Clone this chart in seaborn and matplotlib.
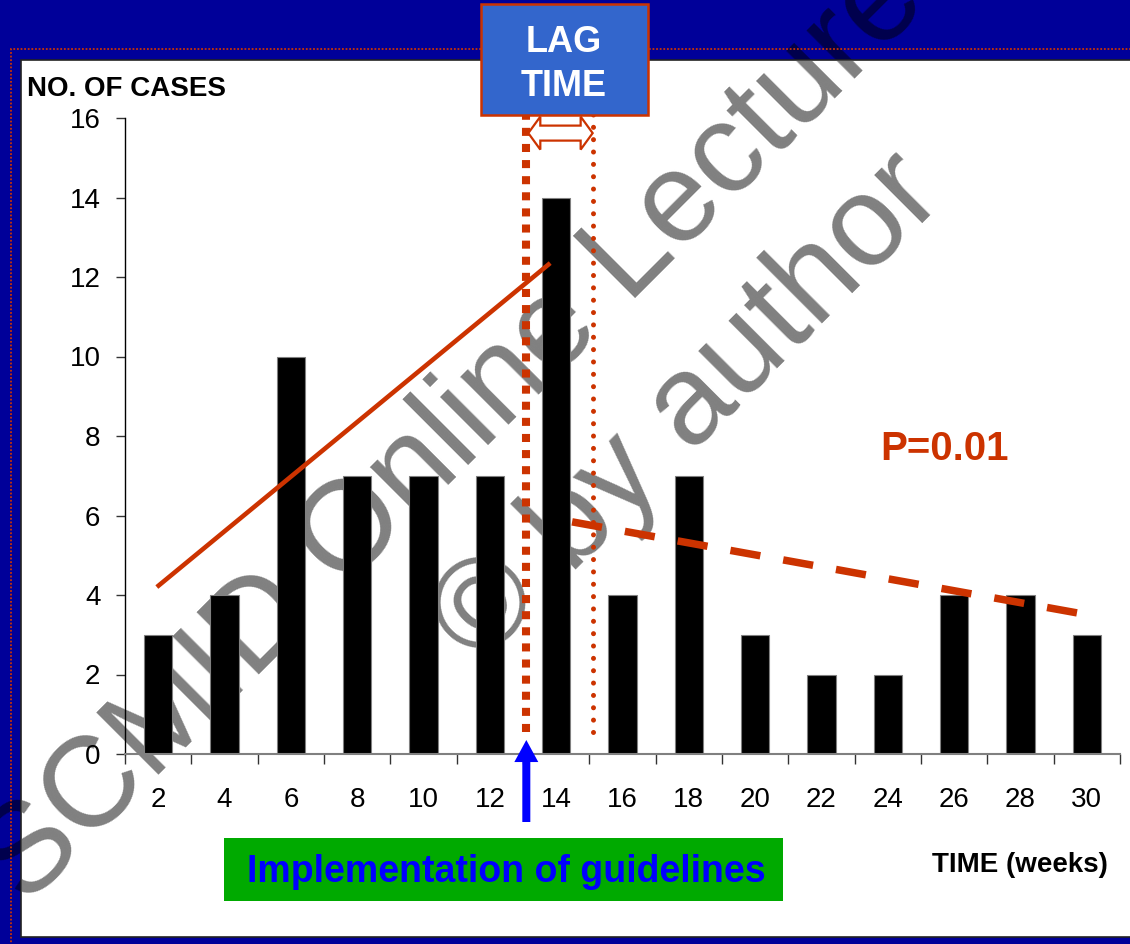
import matplotlib
matplotlib.use("Agg")
import matplotlib.pyplot as plt
import numpy as np
import pandas as pd
import seaborn as sns
from matplotlib.patches import Rectangle, Polygon
from matplotlib.transforms import IdentityTransform, Bbox, TransformedBbox
from matplotlib.ticker import FixedLocator

# ---- data -------------------------------------------------------------
weeks = [2, 4, 6, 8, 10, 12, 14, 16, 18, 20, 22, 24, 26, 28, 30]
cases = [3, 4, 10, 7, 7, 7, 14, 4, 7, 3, 2, 2, 4, 4, 3]

# fitted trends before and after the guideline change
trend_before_weeks = [1.96, 13.82]
trend_before_cases = [4.2, 12.35]
trend_after_weeks = [14.48, 30.37]
trend_after_cases = [5.84, 3.45]

implementation_week = 13.1
lag_end_week = 15.1
p_value_label = "P=0.01"
y_ticks = [0, 2, 4, 6, 8, 10, 12, 14, 16]

# ---- styling ----------------------------------------------------------
W, H = 1130, 944
SLIDE_BLUE = "#000099"
RUST = "#CC3300"

sns.set_style("ticks")
plt.rcParams["font.family"] = ["Liberation Sans", "DejaVu Sans"]

fig = plt.figure(figsize=(W / 100, H / 100), dpi=100)
fig.patch.set_facecolor(SLIDE_BLUE)


def fx(x):
    return x / W


def fy(y):
    return 1 - y / H


# watermark: dark on the blue slide, grey on the white panel
wm_size = 92
wm_lines = [("SCMID Online Lecture", 455, 432), ("\u00a9 by author", 690, 410)]
for txt, cx, cy in wm_lines:
    fig.text(fx(cx), fy(cy), txt, rotation=45, rotation_mode="anchor",
             ha="center", va="center", fontsize=wm_size, color="#00004D", zorder=-3)

# dotted slide frame and white chart panel
fig.patches.append(Rectangle((fx(11), fy(990)), (1160 - 11) / W, (990 - 49) / H,
                             transform=fig.transFigure, fill=False, ec=RUST,
                             lw=1.3, ls=(0, (1, 1)), zorder=-2.5))
fig.patches.append(Rectangle((fx(21), fy(937)), (1140 - 21) / W, (937 - 60) / H,
                             transform=fig.transFigure, fc="white", ec="#222222",
                             lw=1.2, zorder=-2))

panel_clip = TransformedBbox(Bbox.from_extents(fx(22), fy(936), 1.0, fy(61)),
                             fig.transFigure)
for txt, cx, cy in wm_lines:
    t = fig.text(fx(cx), fy(cy), txt, rotation=45, rotation_mode="anchor",
                 ha="center", va="center", fontsize=wm_size, color="#808080",
                 zorder=-1)
    t.set_clip_on(True)
    t.set_clip_box(panel_clip)

# ---- bar chart --------------------------------------------------------
ax = fig.add_axes([fx(125), fy(754), (1120 - 125) / W, (754 - 118) / H])
ax.set_facecolor("none")

df = pd.DataFrame({"week": [str(w) for w in weeks], "cases": cases})
sns.barplot(data=df, x="week", y="cases", color="black", saturation=1,
            width=0.43, edgecolor="#808080", linewidth=0.8, ax=ax)

ax.set_xlim(-0.5, len(weeks) - 0.5)
ax.set_ylim(0, 16)
ax.set_yticks(y_ticks)
ax.set_xlabel("")
ax.set_ylabel("")

for side in ("top", "right"):
    ax.spines[side].set_visible(False)
ax.spines["left"].set_color("black")
ax.spines["left"].set_linewidth(1.0)
ax.spines["bottom"].set_color("#808080")
ax.spines["bottom"].set_linewidth(1.5)

ax.tick_params(axis="y", length=6.7, width=1, color="#333333", pad=11,
               labelsize=20, labelcolor="black")
ax.tick_params(axis="x", which="major", length=0, pad=24, labelsize=20,
               labelcolor="black")
ax.xaxis.set_minor_locator(FixedLocator(np.arange(-0.5, len(weeks), 1.0)))
ax.tick_params(axis="x", which="minor", length=7.2, width=1, color="#333333",
               direction="out")


def pos(w):
    """Map a week value onto the categorical bar positions."""
    return (w - weeks[0]) / (weeks[1] - weeks[0])


# trend lines
ax.plot([pos(w) for w in trend_before_weeks], trend_before_cases, color=RUST,
        lw=3.3, solid_capstyle="butt", zorder=4)
ax.plot([pos(w) for w in trend_after_weeks], trend_after_cases, color=RUST,
        lw=5.4, ls=(0, (4.05, 3.1)), dash_capstyle="butt", zorder=4)

# implementation marker and end of lag period
x_impl = pos(implementation_week)
x_lag = pos(lag_end_week)
ax.plot([x_impl, x_impl], [0.55, 16.1], color=RUST, lw=5.8, ls=(0, (1, 1)),
        dash_capstyle="butt", clip_on=False, zorder=4)
ax.plot([x_lag, x_lag], [0.55, 16.1], color=RUST, lw=3.6, ls=(0, (0.01, 2.46)),
        dash_capstyle="round", clip_on=False, zorder=4)

# hollow double arrow spanning the lag period
(xl, yc), = ax.transData.transform([(x_impl, 15.62)])
(xr, _), = ax.transData.transform([(x_lag, 15.62)])
xl += 2
hl, sh, hh = 12, 7.5, 16.5
verts = [(xl, yc), (xl + hl, yc + hh), (xl + hl, yc + sh), (xr - hl, yc + sh),
         (xr - hl, yc + hh), (xr, yc), (xr - hl, yc - hh), (xr - hl, yc - sh),
         (xl + hl, yc - sh), (xl + hl, yc - hh)]
ax.add_artist(Polygon(verts, closed=True, fc="white", ec=RUST, lw=1.6,
                      transform=IdentityTransform(), clip_on=False, zorder=5))

# blue arrow pointing at the implementation week
ax.annotate("", xy=(x_impl, (754 - 740) / 636), xytext=(x_impl, (754 - 822) / 636),
            xycoords=ax.get_xaxis_transform(), annotation_clip=False,
            arrowprops=dict(arrowstyle="simple,head_length=0.46,head_width=0.5,tail_width=0.167",
                            mutation_scale=34.5, fc="#0000FF", ec="none",
                            shrinkA=0, shrinkB=0))

ax.text(pos(25.7), 7.67, p_value_label, ha="center", va="center", fontsize=29,
        fontweight="bold", color=RUST)

# ---- slide labels -----------------------------------------------------
fig.text(fx(27), fy(96), "NO. OF CASES", ha="left", va="baseline", fontsize=20,
         fontweight="bold", color="black")
fig.text(fx(1108), fy(872), "TIME (weeks)", ha="right", va="baseline", fontsize=20,
         fontweight="bold", color="black")

fig.patches.append(Rectangle((fx(224), fy(901)), 559 / W, 63 / H,
                             transform=fig.transFigure, fc="#00AA00", ec="none",
                             zorder=5))
fig.text(fx(506), fy(882), "Implementation of guidelines", ha="center",
         va="baseline", fontsize=27, fontweight="bold", color="#0000FF", zorder=6)

fig.patches.append(Rectangle((fx(481), fy(115)), 167 / W, 111 / H,
                             transform=fig.transFigure, fc="#3366CC", ec=RUST,
                             lw=1.8, zorder=5))
fig.text(fx(564), fy(52), "LAG", ha="center", va="baseline", fontsize=26,
         fontweight="bold", color="white", zorder=6)
fig.text(fx(564), fy(96), "TIME", ha="center", va="baseline", fontsize=26,
         fontweight="bold", color="white", zorder=6)

fig.savefig("out.png", dpi=100, facecolor=fig.get_facecolor())
